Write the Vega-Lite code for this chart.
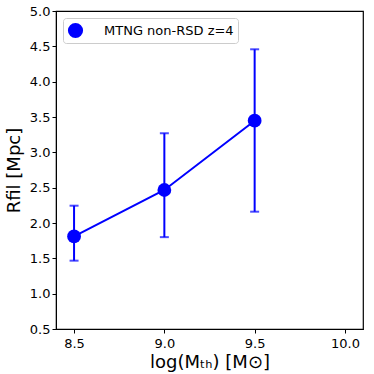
{
  "$schema": "https://vega.github.io/schema/vega-lite/v6.json",
  "autosize": {"type": "none"},
  "padding": {"left": 56, "top": 11, "right": 11, "bottom": 45},
  "width": 307,
  "height": 318,
  "background": "white",
  "config": {
    "font": "DejaVu Sans",
    "view": {"stroke": "black", "strokeWidth": 1.2},
    "axis": {
      "grid": false,
      "domainColor": "black",
      "tickColor": "black",
      "tickSize": 4,
      "labelColor": "black",
      "labelFontSize": 13,
      "labelFont": "DejaVu Sans",
      "labelBound": false,
      "labelFlush": false,
      "titleFont": "DejaVu Sans",
      "titleFontWeight": "normal",
      "titleFontSize": 18,
      "titleColor": "black"
    },
    "axisY": {"labelOverlap": false}
  },
  "data": {
    "values": [
      {"logM": 8.5, "R": 1.81, "lo": 1.467, "hi": 2.245, "series": "MTNG non-RSD z=4"},
      {"logM": 9.0, "R": 2.467, "lo": 1.80, "hi": 3.27, "series": "MTNG non-RSD z=4"},
      {"logM": 9.5, "R": 3.448, "lo": 2.16, "hi": 4.458, "series": "MTNG non-RSD z=4"}
    ]
  },
  "encoding": {
    "x": {
      "field": "logM", "type": "quantitative",
      "scale": {"domain": [8.4, 10.1], "nice": false, "zero": false},
      "axis": {"values": [8.5, 9.0, 9.5, 10.0], "format": ".1f", "labelOverlap": false, "title": "log(Mₜₕ) [M⊙]", "titlePadding": 3, "labelPadding": 4}
    }
  },
  "layer": [
    {
      "mark": {"type": "rule", "color": "#0000ff", "strokeWidth": 2},
      "encoding": {
        "y": {"field": "lo", "type": "quantitative",
          "scale": {"domain": [0.5, 5.0], "nice": false, "zero": false},
          "axis": {"values": [0.5, 1, 1.5, 2, 2.5, 3, 3.5, 4, 4.5, 5], "format": ".1f", "labelOverlap": false, "title": "Rfil [Mpc]", "titlePadding": 6}
        },
        "y2": {"field": "hi"}
      }
    },
    {
      "mark": {"type": "tick", "orient": "horizontal", "color": "#0000ff", "size": 9, "thickness": 2},
      "encoding": {"y": {"field": "lo", "type": "quantitative",
        "axis": {"values": [0.5, 1, 1.5, 2, 2.5, 3, 3.5, 4, 4.5, 5], "format": ".1f", "labelOverlap": false, "title": "Rfil [Mpc]", "titlePadding": 6}}}
    },
    {
      "mark": {"type": "tick", "orient": "horizontal", "color": "#0000ff", "size": 9, "thickness": 2},
      "encoding": {"y": {"field": "hi", "type": "quantitative",
        "axis": {"values": [0.5, 1, 1.5, 2, 2.5, 3, 3.5, 4, 4.5, 5], "format": ".1f", "labelOverlap": false, "title": "Rfil [Mpc]", "titlePadding": 6}}}
    },
    {
      "mark": {"type": "line", "color": "#0000ff", "strokeWidth": 2},
      "encoding": {"y": {"field": "R", "type": "quantitative",
        "axis": {"values": [0.5, 1, 1.5, 2, 2.5, 3, 3.5, 4, 4.5, 5], "format": ".1f", "labelOverlap": false, "title": "Rfil [Mpc]", "titlePadding": 6}}}
    },
    {
      "mark": {"type": "point", "filled": true, "opacity": 1, "size": 190},
      "encoding": {
        "y": {"field": "R", "type": "quantitative",
          "axis": {"values": [0.5, 1, 1.5, 2, 2.5, 3, 3.5, 4, 4.5, 5], "format": ".1f", "labelOverlap": false, "title": "Rfil [Mpc]", "titlePadding": 6}},
        "color": {
          "field": "series", "type": "nominal",
          "scale": {"range": ["#0000ff"]},
          "legend": {
            "title": null,
            "orient": "top-left",
            "offset": 7,
            "symbolSize": 230,
            "symbolType": "circle",
            "labelFontSize": 13,
            "labelFont": "DejaVu Sans",
            "labelColor": "black",
            "labelOffset": 20,
            "strokeColor": "#cccccc",
            "cornerRadius": 3,
            "padding": 4,
            "fillColor": "white"
          }
        }
      }
    }
  ]
}
